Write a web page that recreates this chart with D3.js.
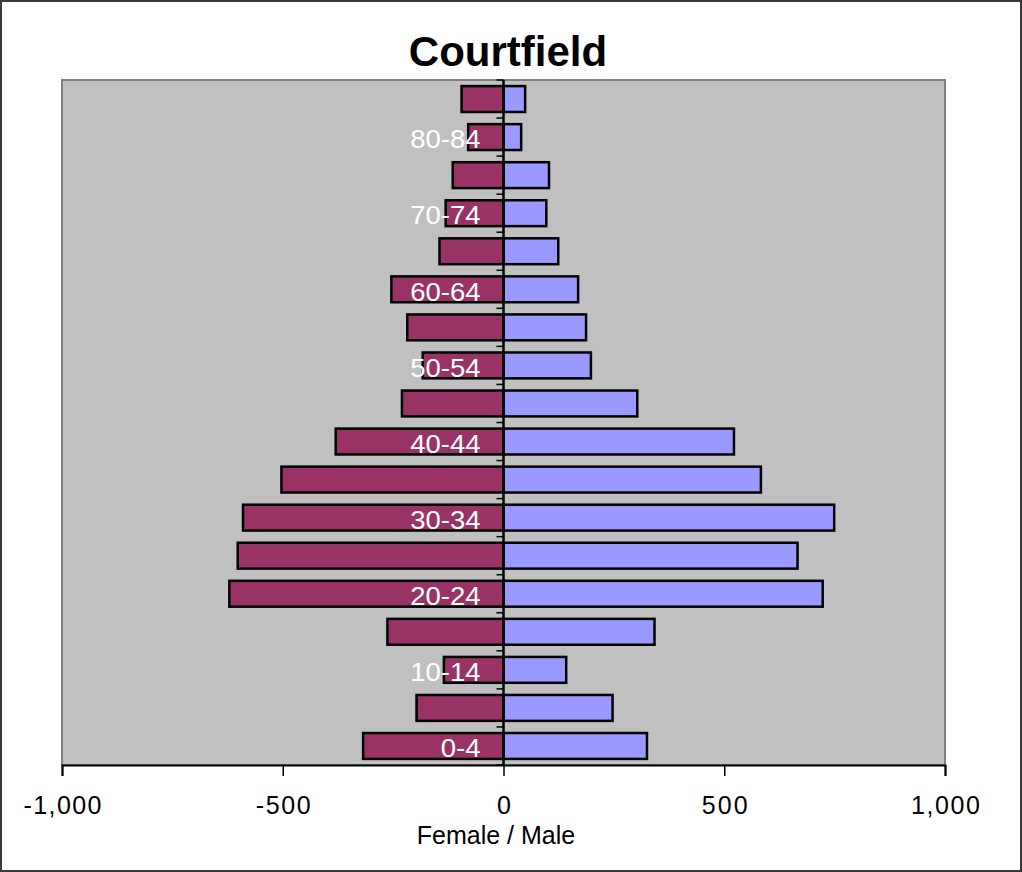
<!DOCTYPE html>
<html><head><meta charset="utf-8">
<script src="https://cdn.jsdelivr.net/npm/d3@7"></script>
<style>
html,body{margin:0;padding:0;background:#fff;}
text{font-family:"Liberation Sans",Arial,sans-serif;}
</style></head>
<body>
<svg id="c" width="1022" height="872"></svg>
<script>
const categories = ["0-4","5-9","10-14","15-19","20-24","25-29","30-34","35-39","40-44","45-49","50-54","55-59","60-64","65-69","70-74","75-79","80-84","85+"];
const female = [318,197,135,263,621,602,590,503,380,230,183,218,254,145,131,115,80,95];
const male   = [325,247,142,342,723,666,749,583,522,303,198,187,169,124,97,103,40,49];
const xTicks = [-1000,-500,0,500,1000];
const title = "Courtfield";
const xTitle = "Female / Male";

const svg = d3.select("#c");
const W = 1022, H = 872;
const m = {l:62, r:945, t:80, b:765};

svg.append("rect").attr("x",1).attr("y",1).attr("width",W-2).attr("height",H-2)
  .attr("fill","#fff").attr("stroke","#3a3a3a").attr("stroke-width",2);

const x = d3.scaleLinear().domain([-1000,1000]).range([m.l,m.r]);
const y = d3.scaleBand().domain(categories.slice().reverse()).range([m.t,m.b])
  .paddingInner(0.32).paddingOuter(0.16);

svg.append("rect").attr("x",m.l).attr("y",m.t).attr("width",m.r-m.l).attr("height",m.b-m.t)
  .attr("fill","#c0c0c0").attr("stroke","#808080").attr("stroke-width",2);

svg.append("text").attr("x",508).attr("y",66).attr("text-anchor","middle")
  .attr("font-size",42).attr("font-weight","bold").attr("fill","#000").text(title);

const rows = categories.map((c,i)=>({c, f:female[i], m:male[i]}));

svg.append("g").selectAll("rect").data(rows).join("rect")
  .attr("x",d=>x(-d.f)).attr("y",d=>y(d.c))
  .attr("width",d=>x(0)-x(-d.f)).attr("height",y.bandwidth())
  .attr("fill","#993366").attr("stroke","#000").attr("stroke-width",2.5);

svg.append("g").selectAll("rect").data(rows).join("rect")
  .attr("x",x(0)).attr("y",d=>y(d.c))
  .attr("width",d=>x(d.m)-x(0)).attr("height",y.bandwidth())
  .attr("fill","#9999ff").attr("stroke","#000").attr("stroke-width",2.5);

// category axis at zero
const step = y.step();
const bounds = d3.range(categories.length+1).map(i=>m.t + i*step);
svg.append("g").selectAll("line").data(bounds).join("line")
  .attr("x1",x(0)-7).attr("x2",x(0)).attr("y1",d=>d).attr("y2",d=>d)
  .attr("stroke","#000").attr("stroke-width",1.5);
svg.append("line").attr("x1",x(0)).attr("x2",x(0)).attr("y1",m.t).attr("y2",m.b)
  .attr("stroke","#000").attr("stroke-width",2.5);

const yAxis = d3.axisLeft(y).tickSize(0).tickPadding(23)
  .tickFormat((d)=> categories.indexOf(d)%2===0 ? d : "");
const gy = svg.append("g").attr("transform",`translate(${x(0)},0)`).call(yAxis);
gy.select(".domain").remove();
gy.selectAll("text").attr("font-size",25).attr("fill","#fff")
  .attr("font-family","'Liberation Sans',Arial,sans-serif")
  .attr("transform","scale(1.1,1)").attr("dy","0.45em");
gy.selectAll(".tick text").each(function(){
  const t = d3.select(this);
  t.attr("x", (+t.attr("x"))/1.1);
});

// bottom axis
const fmt = d3.formatLocale({decimal:".",thousands:",",grouping:[3],currency:["",""],minus:"-"}).format(",");
const xAxis = d3.axisBottom(x).tickValues(xTicks).tickFormat(fmt).tickSize(11).tickPadding(20);
const gx = svg.append("g").attr("transform",`translate(0,${m.b})`).call(xAxis);
gx.select(".domain").attr("stroke","#000").attr("stroke-width",2);
gx.selectAll(".tick line").attr("stroke","#000").attr("stroke-width",1.5);
gx.selectAll(".tick text").attr("font-size",25).attr("fill","#000")
  .attr("font-family","'Liberation Sans',Arial,sans-serif")
  .attr("textLength", function(){ return this.getComputedTextLength()*1.1; });

svg.append("text").attr("x",496).attr("y",844).attr("text-anchor","middle")
  .attr("font-size",25).attr("fill","#000").text(xTitle);
</script>
</body></html>
